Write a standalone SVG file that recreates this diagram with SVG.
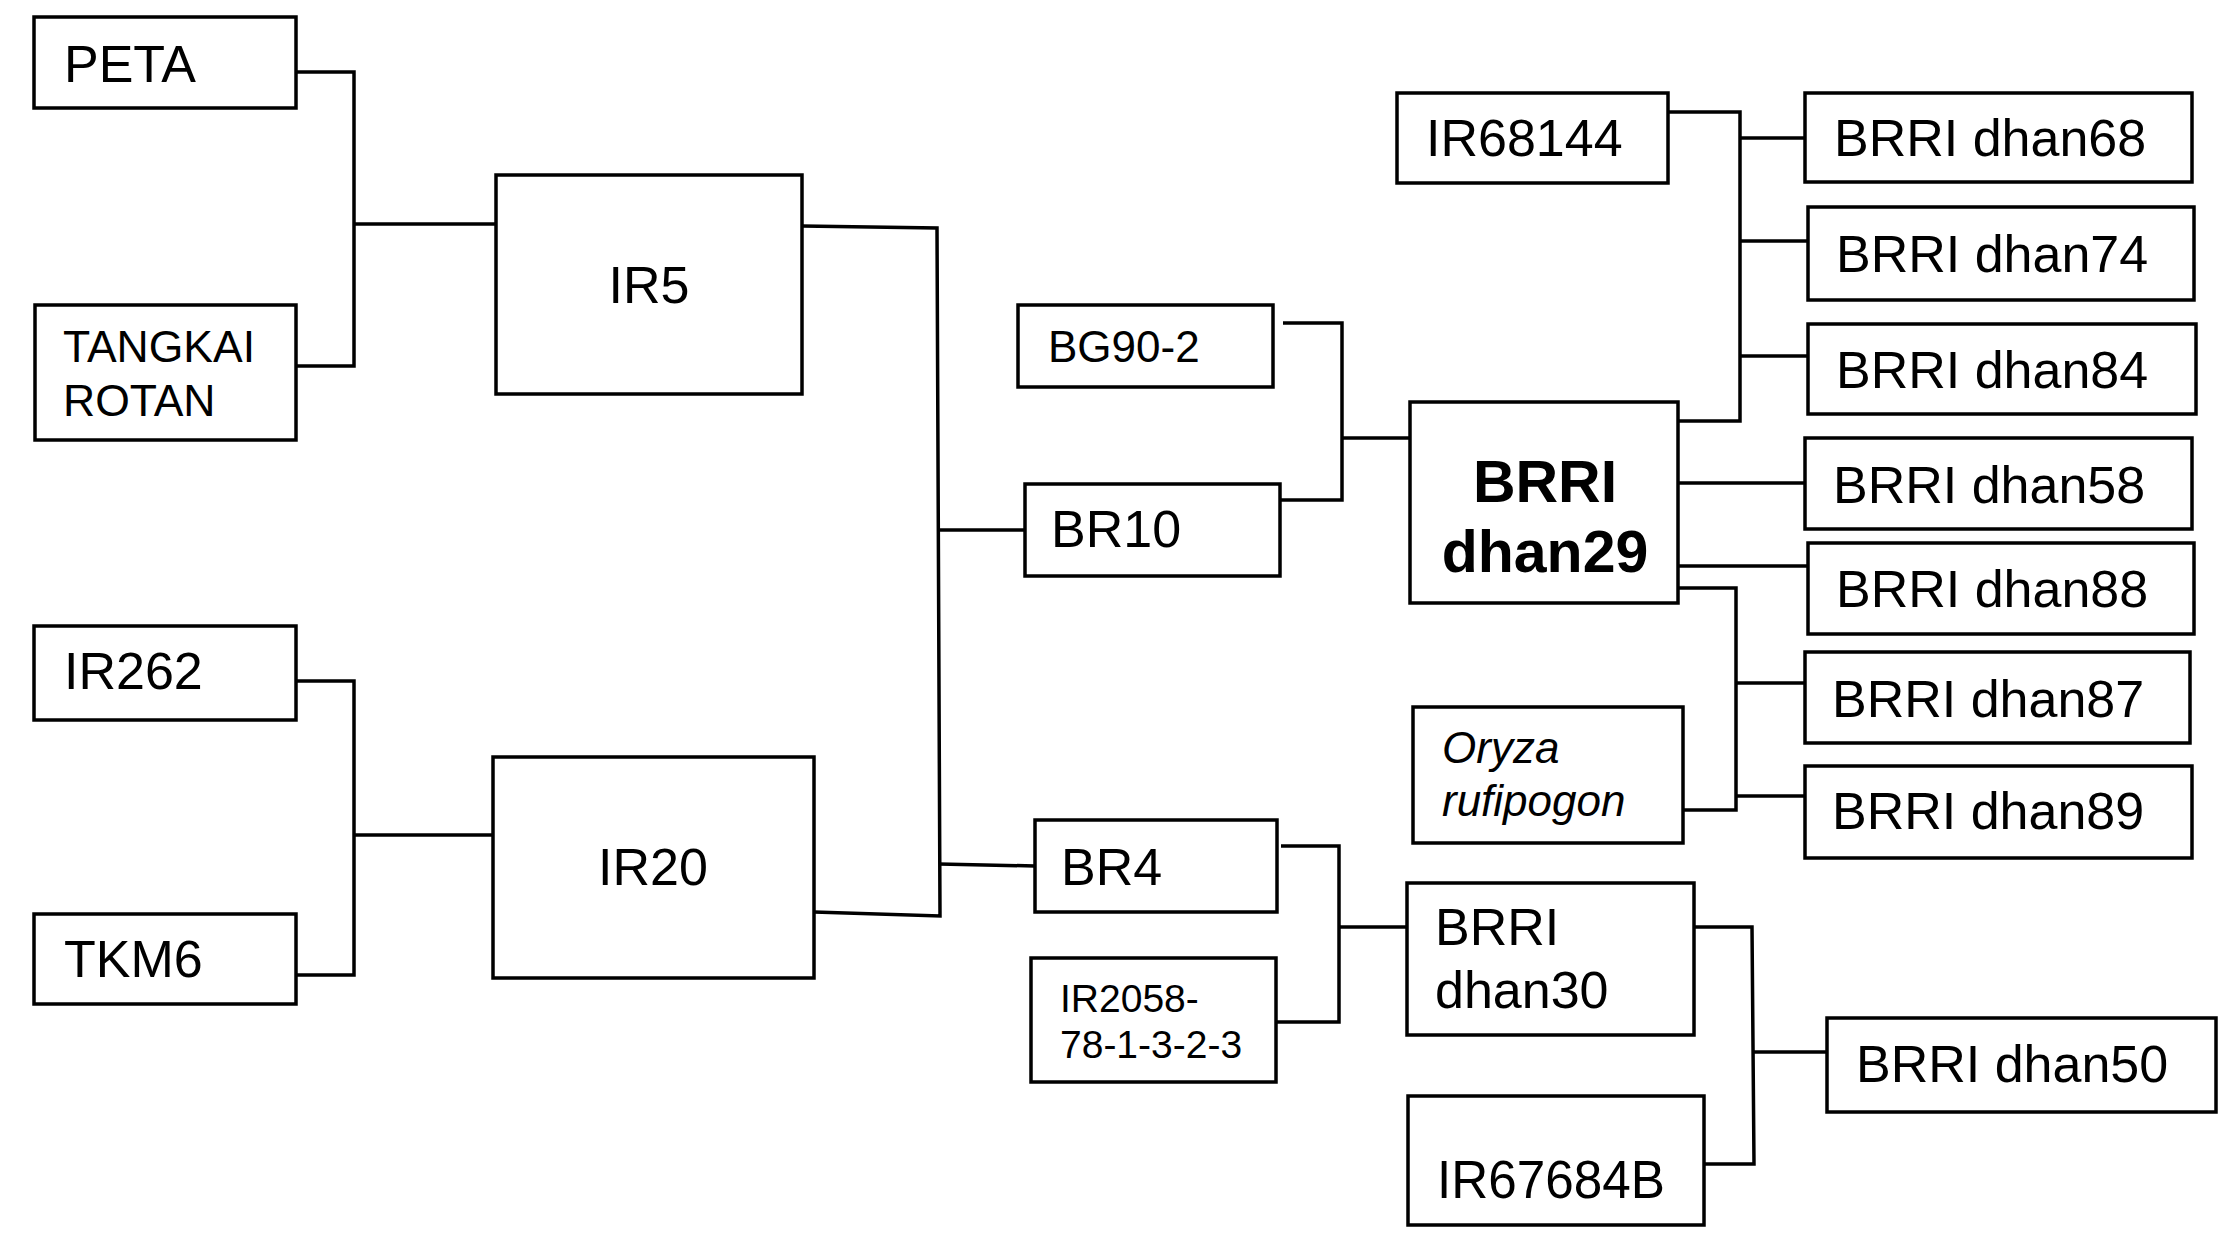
<svg xmlns="http://www.w3.org/2000/svg" width="2232" height="1238" viewBox="0 0 2232 1238">
<style>
.box{fill:#fff;stroke:#000;stroke-width:3.5}
.t{font-family:"Liberation Sans",Arial,sans-serif;font-size:52px;fill:#000}
.s{font-size:44.5px}
.b{font-weight:bold;font-size:59px}
.i{font-style:italic;font-size:44px}
.c{fill:none;stroke:#000;stroke-width:3.5}
</style>
<rect width="2232" height="1238" fill="#fff"/>
<g id="connectors">
<polyline class="c" points="296,72 354,72 354,366 296,366"/>
<line class="c" x1="354" y1="224" x2="496" y2="224"/>
<polyline class="c" points="296,681 354,681 354,975 296,975"/>
<line class="c" x1="354" y1="835" x2="493" y2="835"/>
<polyline class="c" points="802,226 937,228 940,916 814,912"/>
<line class="c" x1="938" y1="530" x2="1025" y2="530"/>
<line class="c" x1="939" y1="864" x2="1035" y2="866"/>
<polyline class="c" points="1283,323 1342,323 1342,500 1281,500"/>
<line class="c" x1="1342" y1="438" x2="1410" y2="438"/>
<polyline class="c" points="1281,846 1339,846 1339,1022 1277,1022"/>
<line class="c" x1="1339" y1="927" x2="1407" y2="927"/>
<polyline class="c" points="1668,112 1740,112 1740,421 1678,421"/>
<line class="c" x1="1740" y1="138" x2="1805" y2="138"/>
<line class="c" x1="1740" y1="241" x2="1808" y2="241"/>
<line class="c" x1="1740" y1="356" x2="1808" y2="356"/>
<line class="c" x1="1678" y1="483" x2="1805" y2="483"/>
<line class="c" x1="1678" y1="566" x2="1808" y2="566"/>
<polyline class="c" points="1678,588 1736,588 1736,810 1683,810"/>
<line class="c" x1="1736" y1="683" x2="1805" y2="683"/>
<line class="c" x1="1736" y1="796" x2="1805" y2="796"/>
<polyline class="c" points="1694,927 1752,927 1754,1164 1704,1164"/>
<line class="c" x1="1754" y1="1052" x2="1827" y2="1052"/>
</g>
<g id="peta"><rect class="box" x="34" y="17" width="262" height="91"/><text class="t" x="64" y="82">PETA</text></g>
<g id="tangkai-rotan"><rect class="box" x="35" y="305" width="261" height="135"/><text class="t s" x="63" y="362">TANGKAI</text><text class="t s" x="63" y="416">ROTAN</text></g>
<g id="ir5"><rect class="box" x="496" y="175" width="306" height="219"/><text class="t" x="649" y="303" text-anchor="middle">IR5</text></g>
<g id="ir262"><rect class="box" x="34" y="626" width="262" height="94"/><text class="t" x="64" y="689">IR262</text></g>
<g id="tkm6"><rect class="box" x="34" y="914" width="262" height="90"/><text class="t" x="64" y="977">TKM6</text></g>
<g id="ir20"><rect class="box" x="493" y="757" width="321" height="221"/><text class="t" x="653" y="885" text-anchor="middle">IR20</text></g>
<g id="bg90-2"><rect class="box" x="1018" y="305" width="255" height="82"/><text class="t" style="font-size:44px" x="1048" y="362">BG90-2</text></g>
<g id="br10"><rect class="box" x="1025" y="484" width="255" height="92"/><text class="t" x="1051" y="547">BR10</text></g>
<g id="br4"><rect class="box" x="1035" y="820" width="242" height="92"/><text class="t" x="1061" y="885">BR4</text></g>
<g id="ir2058"><rect class="box" x="1031" y="958" width="245" height="124"/><text class="t" style="font-size:39px" x="1060" y="1012">IR2058-</text><text class="t" style="font-size:39px" x="1060" y="1058">78-1-3-2-3</text></g>
<g id="ir68144"><rect class="box" x="1397" y="93" width="271" height="90"/><text class="t" x="1426" y="156">IR68144</text></g>
<g id="brri-dhan29"><rect class="box" x="1410" y="402" width="268" height="201"/><text class="t b" x="1545" y="502" text-anchor="middle">BRRI</text><text class="t b" x="1545" y="572" text-anchor="middle">dhan29</text></g>
<g id="oryza"><rect class="box" x="1413" y="707" width="270" height="136"/><text class="t i" x="1442" y="763">Oryza</text><text class="t i" x="1442" y="816">rufipogon</text></g>
<g id="brri-dhan30"><rect class="box" x="1407" y="883" width="287" height="152"/><text class="t" x="1435" y="945">BRRI</text><text class="t" x="1435" y="1008">dhan30</text></g>
<g id="ir67684b"><rect class="box" x="1408" y="1096" width="296" height="129"/><text class="t" style="font-size:53px" x="1437" y="1198" textLength="228" lengthAdjust="spacingAndGlyphs">IR67684B</text></g>
<g id="brri-dhan68"><rect class="box" x="1805" y="93" width="387" height="89"/><text class="t" x="1834" y="156">BRRI dhan68</text></g>
<g id="brri-dhan74"><rect class="box" x="1808" y="207" width="386" height="93"/><text class="t" x="1836" y="272">BRRI dhan74</text></g>
<g id="brri-dhan84"><rect class="box" x="1808" y="324" width="388" height="90"/><text class="t" x="1836" y="388">BRRI dhan84</text></g>
<g id="brri-dhan58"><rect class="box" x="1805" y="438" width="387" height="91"/><text class="t" x="1833" y="503">BRRI dhan58</text></g>
<g id="brri-dhan88"><rect class="box" x="1808" y="543" width="386" height="91"/><text class="t" x="1836" y="607">BRRI dhan88</text></g>
<g id="brri-dhan87"><rect class="box" x="1805" y="652" width="385" height="91"/><text class="t" x="1832" y="717">BRRI dhan87</text></g>
<g id="brri-dhan89"><rect class="box" x="1805" y="766" width="387" height="92"/><text class="t" x="1832" y="829">BRRI dhan89</text></g>
<g id="brri-dhan50"><rect class="box" x="1827" y="1018" width="389" height="94"/><text class="t" x="1856" y="1082">BRRI dhan50</text></g>
</svg>
